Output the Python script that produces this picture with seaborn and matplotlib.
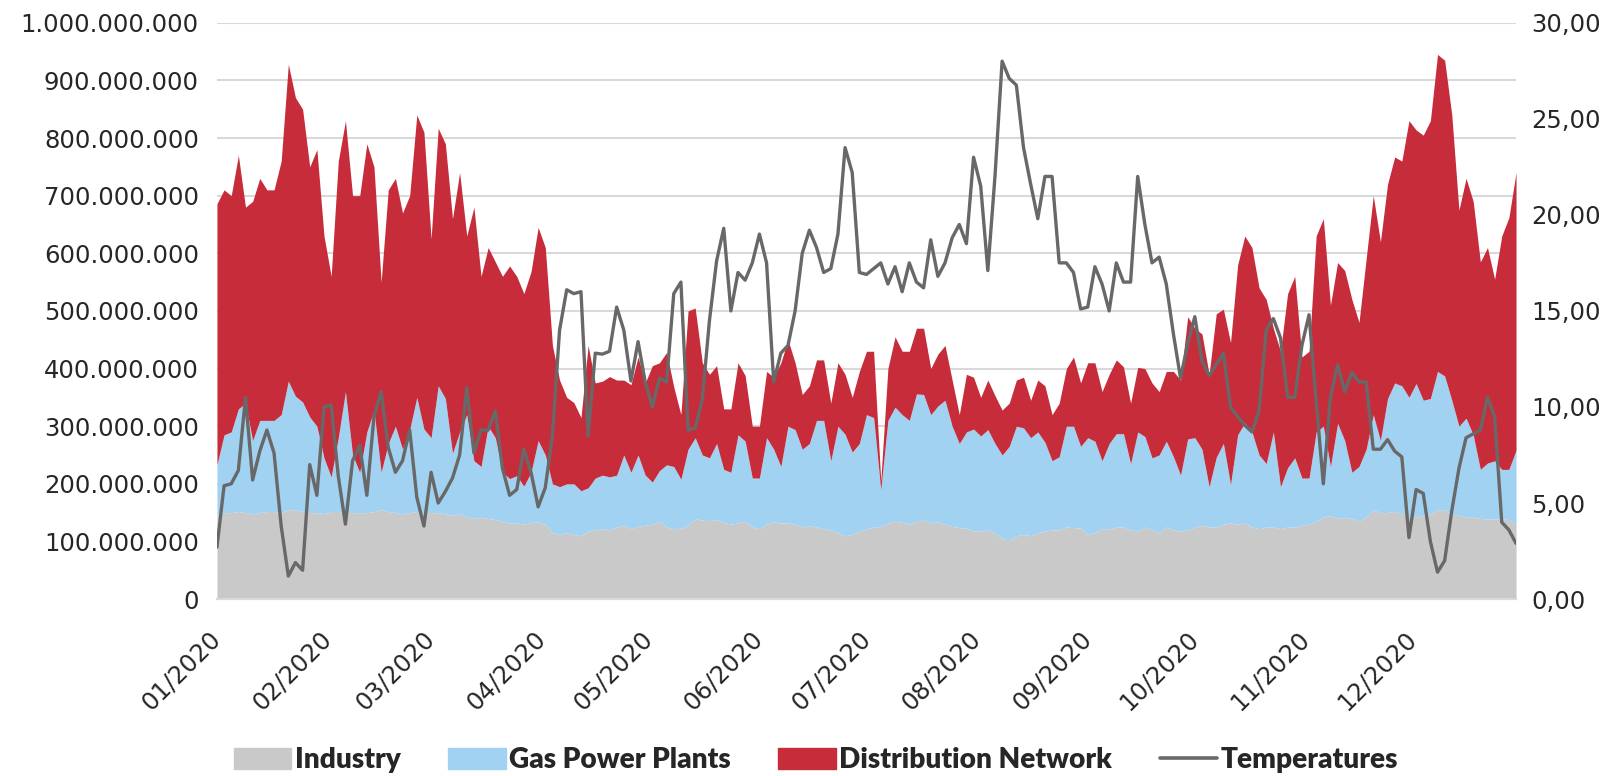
import numpy as np
import pandas as pd
import matplotlib.pyplot as plt
import matplotlib.ticker as mticker
from matplotlib.patches import Patch
from matplotlib.lines import Line2D
import seaborn as sns

sns.set_theme(style="white")
plt.rcParams['font.family'] = ['DejaVu Sans']

# one reading every second day from 01/01/2020, gas in million m3, temperature in C
industry = [
    145, 150, 150, 152, 150, 148, 150, 152, 152, 150, 155, 155, 152, 150, 150, 148,
    152, 152, 150, 150, 150, 150, 152, 155, 152, 150, 148, 150, 152, 150, 150,
    150, 148, 145, 148, 142, 140, 142, 140, 138, 135, 132, 132, 130, 133, 134, 130,
    115, 112, 115, 112, 110, 118, 120, 122, 120, 125, 128, 122, 126, 128, 130,
    135, 125, 122, 123, 128, 139, 137, 136, 138, 133, 130, 132, 135, 125, 122, 130,
    134, 132, 132, 130, 125, 127, 125, 122, 120, 115, 110, 112, 118, 122, 125,
    126, 132, 135, 133, 130, 136, 137, 132, 134, 130, 126, 124, 123, 118, 118, 120,
    115, 105, 102, 110, 112, 110, 115, 118, 120, 120, 125, 124, 123, 112, 115,
    122, 122, 125, 125, 120, 118, 125, 120, 115, 125, 120, 118, 120, 125, 128, 125,
    125, 130, 132, 130, 132, 125, 122, 125, 125, 122, 125, 125, 128, 130, 135,
    142, 145, 140, 142, 140, 136, 142, 155, 150, 150, 152, 148, 145, 142, 145, 148,
    155, 155, 148, 145, 142, 142, 140, 139, 139, 139, 138, 130]
gas_power = [
    88, 135, 140, 178, 190, 127, 160, 158, 158, 170, 223, 197, 190, 166, 150, 97,
    60, 128, 210, 100, 70, 140, 176, 65, 118, 150, 112, 144, 198, 145, 130,
    220, 200, 108, 142, 178, 100, 88, 160, 142, 85, 77, 82, 66, 87, 141, 120,
    85, 83, 85, 88, 78, 75, 90, 93, 92, 90, 122, 98, 124, 87, 73,
    88, 108, 108, 85, 132, 141, 113, 109, 132, 92, 90, 153, 139, 85, 88, 150,
    126, 98, 168, 164, 135, 143, 185, 188, 120, 185, 176, 143, 152, 198, 190,
    64, 178, 198, 187, 180, 220, 218, 188, 201, 215, 174, 146, 167, 177, 165, 174,
    155, 145, 163, 190, 185, 170, 175, 154, 120, 127, 175, 176, 142, 168, 159,
    118, 148, 162, 162, 115, 172, 157, 125, 135, 149, 127, 97, 158, 155, 132, 70,
    121, 140, 67, 155, 174, 165, 128, 110, 165, 73, 103, 120, 82, 80, 155,
    158, 85, 165, 133, 80, 94, 118, 165, 125, 198, 223, 222, 205, 232, 200, 200,
    240, 232, 197, 155, 172, 143, 85, 97, 101, 86, 87, 128]
distribution = [
    453, 425, 410, 440, 340, 415, 420, 400, 400, 440, 550, 518, 508, 434, 480, 385,
    348, 480, 470, 450, 480, 500, 422, 330, 440, 430, 410, 406, 490, 515, 345,
    447, 442, 407, 450, 310, 440, 330, 310, 305, 340, 369, 346, 334, 348, 370, 360,
    240, 185, 150, 141, 127, 247, 165, 163, 174, 165, 130, 152, 170, 160, 202,
    187, 195, 138, 112, 240, 225, 160, 145, 135, 105, 110, 125, 114, 90, 90, 115,
    125, 180, 150, 116, 95, 100, 105, 105, 100, 110, 104, 95, 125, 110, 115,
    15, 90, 122, 110, 120, 114, 115, 80, 90, 95, 80, 50, 100, 90, 67, 86,
    83, 78, 75, 80, 88, 65, 90, 98, 80, 93, 100, 120, 110, 130, 136,
    120, 120, 128, 116, 105, 112, 118, 130, 110, 121, 148, 165, 212, 190, 200, 195,
    249, 233, 246, 295, 324, 320, 290, 285, 180, 235, 302, 315, 210, 220, 340,
    360, 280, 279, 295, 300, 250, 330, 380, 345, 372, 392, 390, 480, 440, 460, 482,
    550, 548, 495, 375, 416, 405, 360, 374, 315, 405, 437, 482]
temperature = [
    2.7, 5.9, 6.0, 6.7, 10.5, 6.2, 7.7, 8.8, 7.6, 3.8, 1.2, 1.9, 1.5, 7.0, 5.4, 10.0,
    10.1, 6.4, 3.9, 7.2, 8.0, 5.4, 9.5, 10.8, 7.9, 6.6, 7.2, 8.8, 5.3, 3.8, 6.6,
    5.0, 5.6, 6.3, 7.5, 11.0, 7.6, 8.8, 8.8, 9.8, 6.8, 5.4, 5.7, 7.8, 6.6, 4.8, 5.8,
    8.5, 14.0, 16.1, 15.9, 16.0, 8.5, 12.8, 12.75, 12.9, 15.2, 14.0, 11.35, 13.4, 11.3, 10.0,
    11.5, 11.3, 15.9, 16.5, 8.8, 8.9, 10.4, 14.5, 17.6, 19.3, 15.0, 17.0, 16.6, 17.5, 19.0,
    17.5, 11.3, 12.8, 13.2, 15.0, 18.0, 19.2, 18.3, 17.0, 17.2, 19.0, 23.5, 22.2, 17.0, 16.9, 17.2,
    17.5, 16.4, 17.3, 16.0, 17.5, 16.5, 16.2, 18.7, 16.8, 17.5, 18.8, 19.5, 18.5, 23.0, 21.5,
    17.1, 22.0, 28.0, 27.1, 26.75, 23.5, 21.6, 19.8, 22.0, 22.0, 17.5, 17.5, 17.0, 15.1, 15.2, 17.3,
    16.4, 15.0, 17.5, 16.5, 16.5, 22.0, 19.5, 17.5, 17.8, 16.4, 13.8, 11.5, 13.3, 14.7, 12.4,
    11.64, 12.2, 12.8, 10.0, 9.5, 9.05, 8.7, 9.8, 14.0, 14.6, 13.6, 10.5, 10.5, 13.2, 14.8, 10.3,
    6.0, 10.5, 12.2, 10.8, 11.8, 11.3, 11.3, 7.8, 7.8, 8.3, 7.7, 7.4, 3.2, 5.7, 5.5, 3.0,
    1.4, 2.0, 4.6, 6.8, 8.4, 8.6, 8.8, 10.5, 9.5, 4.0, 3.6, 2.9]

series_names = ["Industry", "Gas Power Plants", "Distribution Network", "Temperatures"]
colors = ["#c9c9c9", "#a2d2f1", "#c72c3a", "#686868"]

dates = pd.date_range("2020-01-01", periods=len(industry), freq="2D")
month_ticks = list(pd.date_range("2020-01-01", "2020-12-01", freq="MS"))
month_labels = [d.strftime("%m/%Y") for d in month_ticks]

fig = plt.figure(figsize=(16.19, 7.76), dpi=100)
ax = fig.add_axes([0.134, 0.228, 0.8024, 0.7427])

ax.stackplot(dates,
             np.array(industry) * 1e6,
             np.array(gas_power) * 1e6,
             np.array(distribution) * 1e6,
             colors=colors[:3], linewidth=0)
ax.set_ylim(0, 1e9)
ax.set_xlim(dates[0], dates[-1])
ax.set_yticks(np.arange(0, 1e9 + 1, 1e8))
ax.yaxis.set_major_formatter(mticker.FuncFormatter(lambda v, p: f"{int(round(v)):,}".replace(",", ".")))
ax.grid(axis="y", color="#d9d9d9", linewidth=1.5)
ax.set_axisbelow(True)

ax.set_xticks(month_ticks + [dates[-1]])
ax.set_xticklabels(month_labels + [""], rotation=45, ha="right", va="center",
                   rotation_mode="anchor", fontsize=17.5, fontfamily="DejaVu Sans")
ax.tick_params(axis="x", length=9, width=1.5, color="#d9d9d9", pad=17)
ax.tick_params(axis="y", length=0, labelsize=17.5, pad=13, labelfontfamily="DejaVu Sans")

ax2 = ax.twinx()
sns.lineplot(x=dates, y=temperature, ax=ax2, color=colors[3], linewidth=2.4)
ax2.set_ylim(0, 30)
ax2.set_yticks(np.arange(0, 31, 5))
ax2.yaxis.set_major_formatter(mticker.FuncFormatter(lambda v, p: f"{v:.2f}".replace(".", ",")))
ax2.tick_params(axis="y", length=0, labelsize=17.5, pad=11, labelfontfamily="DejaVu Sans")
ax2.set_ylabel("")

for a in (ax, ax2):
    for side in ("left", "right", "top"):
        a.spines[side].set_visible(False)
    a.spines["bottom"].set_color("#d9d9d9")
    a.spines["bottom"].set_linewidth(1.5)
    a.set_xlabel("")

handles = [Patch(color=c) for c in colors[:3]] + [Line2D([], [], color=colors[3], linewidth=2.6)]
fig.legend(handles, series_names, loc="center", bbox_to_anchor=(0.504, 0.02), ncol=4,
           frameon=False, handlelength=2.05, handleheight=0.75, handletextpad=0.12,
           columnspacing=1.7,
           prop={"family": ["Lato", "DejaVu Sans"], "weight": "heavy", "size": 20.2})

fig.savefig("out.png", dpi=100)
